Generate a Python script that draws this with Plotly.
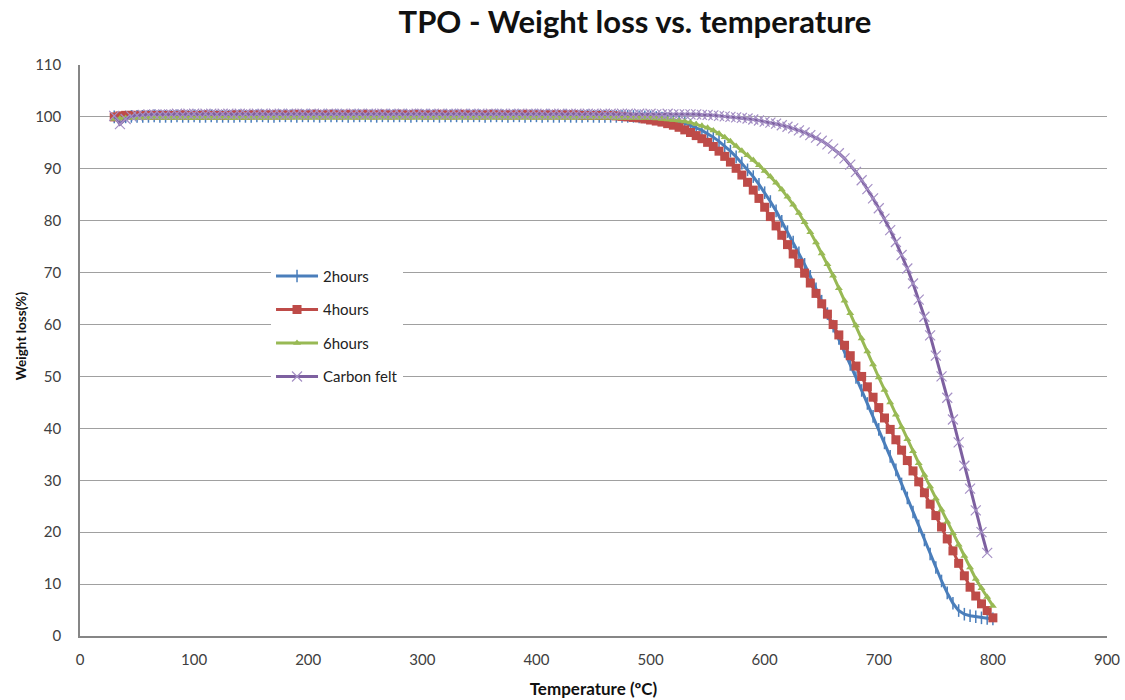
import plotly.graph_objects as go

temperature = list(range(30, 805, 5))

hours2 = [
    100.0, 99.8, 100.0, 100.1, 100.1, 100.1, 100.1, 100.2, 100.1, 100.1,   # 30-75
    100.1, 100.2, 100.1, 100.1, 100.2, 100.1, 100.1, 100.2, 100.1, 100.1,  # 80-125
    100.1, 100.1, 100.2, 100.1, 100.1, 100.2, 100.2, 100.1, 100.1, 100.2,  # 130-175
    100.2, 100.2, 100.1, 100.2, 100.2, 100.2, 100.1, 100.2, 100.2, 100.2,  # 180-225
    100.2, 100.1, 100.2, 100.2, 100.2, 100.2, 100.1, 100.2, 100.2, 100.2,  # 230-275
    100.2, 100.2, 100.1, 100.2, 100.2, 100.2, 100.2, 100.1, 100.2, 100.2,  # 280-325
    100.2, 100.1, 100.2, 100.2, 100.2, 100.1, 100.2, 100.2, 100.2, 100.1,  # 330-375
    100.2, 100.2, 100.1, 100.2, 100.2, 100.1, 100.2, 100.1, 100.1, 100.2,  # 380-425
    100.1, 100.1, 100.1, 100.2, 100.1, 100.1, 100.1, 100.1, 100.1, 100.1,  # 430-475
    100.1, 100.1, 100.0, 100.0, 100.0, 99.9, 99.8, 99.6, 99.4, 99.1,       # 480-525
    98.8, 98.4, 97.9, 97.4, 96.8, 96.1, 95.3, 94.4, 93.4, 92.3,            # 530-575
    91.1, 89.8, 88.5, 87.0, 85.4, 83.7, 81.9, 79.9, 77.9, 75.9,            # 580-625
    73.8, 71.6, 69.3, 66.9, 64.5, 62.1, 59.7, 57.3, 54.8, 52.3,            # 630-675
    49.8, 47.3, 44.8, 42.3, 39.8, 37.2, 34.6, 32.0, 29.3, 26.6,            # 680-725
    23.9, 21.2, 18.5, 15.8, 13.2, 10.6, 8.3, 6.3, 4.9, 4.2,                # 730-775
    3.9, 3.7, 3.5, 3.4, 3.3,                                               # 780-800
]

hours4 = [
    100.0, 100.2, 100.3, 100.3, 100.3, 100.3, 100.3, 100.3, 100.3, 100.3,  # 30-75
    100.3, 100.3, 100.4, 100.3, 100.3, 100.3, 100.4, 100.3, 100.3, 100.3,  # 80-125
    100.3, 100.4, 100.4, 100.3, 100.4, 100.4, 100.4, 100.4, 100.4, 100.4,  # 130-175
    100.4, 100.4, 100.5, 100.4, 100.4, 100.5, 100.4, 100.4, 100.5, 100.4,  # 180-225
    100.4, 100.5, 100.4, 100.4, 100.5, 100.4, 100.4, 100.5, 100.4, 100.4,  # 230-275
    100.5, 100.4, 100.4, 100.5, 100.4, 100.4, 100.4, 100.5, 100.4, 100.4,  # 280-325
    100.4, 100.5, 100.4, 100.4, 100.4, 100.4, 100.5, 100.4, 100.4, 100.4,  # 330-375
    100.4, 100.4, 100.5, 100.4, 100.4, 100.4, 100.4, 100.4, 100.4, 100.4,  # 380-425
    100.4, 100.4, 100.3, 100.3, 100.3, 100.3, 100.3, 100.3, 100.2, 100.1,  # 430-475
    100.0, 99.9, 99.8, 99.6, 99.4, 99.2, 99.0, 98.7, 98.4, 98.0,           # 480-525
    97.5, 97.0, 96.4, 95.8, 95.1, 94.3, 93.4, 92.4, 91.3, 90.1,            # 530-575
    88.8, 87.4, 85.9, 84.3, 82.6, 80.8, 79.0, 77.2, 75.4, 73.6,            # 580-625
    71.8, 69.9, 68.0, 66.0, 64.0, 62.0, 60.0, 58.0, 56.0, 54.0,            # 630-675
    52.0, 50.0, 48.0, 46.0, 44.0, 42.0, 39.8, 37.8, 35.8, 33.8,            # 680-725
    31.8, 29.7, 27.6, 25.4, 23.2, 21.0, 18.7, 16.4, 14.0, 11.6,            # 730-775
    9.4, 7.7, 6.2, 4.9, 3.5,                                               # 780-800
]

hours6 = [
    99.6, 99.7, 99.8, 99.8, 99.8, 99.8, 99.8, 99.9, 99.8, 99.8,            # 30-75
    99.8, 99.8, 99.9, 99.8, 99.8, 99.8, 99.9, 99.8, 99.8, 99.9,            # 80-125
    99.8, 99.8, 99.9, 99.8, 99.9, 99.9, 99.8, 99.9, 99.9, 99.9,            # 130-175
    99.9, 99.9, 99.9, 99.9, 99.9, 99.9, 99.9, 99.9, 99.9, 99.9,            # 180-225
    99.9, 99.9, 99.9, 99.9, 99.9, 99.9, 99.9, 99.9, 99.9, 99.9,            # 230-275
    99.9, 99.9, 99.9, 99.9, 99.9, 99.9, 99.9, 99.9, 99.9, 99.9,            # 280-325
    99.9, 99.9, 99.9, 99.9, 99.9, 99.9, 99.9, 99.9, 99.9, 99.9,            # 330-375
    99.9, 99.9, 99.9, 99.9, 99.9, 99.9, 99.9, 99.9, 99.9, 99.9,            # 380-425
    99.9, 99.9, 99.9, 99.9, 99.9, 99.9, 99.9, 99.9, 99.8, 99.8,            # 430-475
    99.8, 99.8, 99.8, 99.8, 99.8, 99.7, 99.6, 99.5, 99.4, 99.3,            # 480-525
    99.1, 98.9, 98.6, 98.3, 97.9, 97.4, 96.8, 96.1, 95.3, 94.4,            # 530-575
    93.5, 92.6, 91.7, 90.7, 89.6, 88.5, 87.3, 86.0, 84.6, 83.1,            # 580-625
    81.5, 79.7, 77.8, 75.8, 73.7, 71.6, 69.4, 67.0, 64.6, 62.2,            # 630-675
    59.8, 57.3, 54.8, 52.3, 49.8, 47.4, 45.0, 42.6, 40.2, 37.9,            # 680-725
    35.6, 33.3, 31.0, 28.8, 26.5, 24.3, 22.0, 19.8, 17.6, 15.4,            # 730-775
    13.2, 11.0, 9.2, 7.5, 5.8,                                             # 780-800
]

carbon_felt = [
    100.2, 98.6, 99.6, 100.1, 100.3, 100.4, 100.5, 100.5, 100.5, 100.5,    # 30-75
    100.5, 100.6, 100.5, 100.6, 100.6, 100.5, 100.6, 100.6, 100.5, 100.6,  # 80-125
    100.6, 100.5, 100.6, 100.6, 100.5, 100.6, 100.6, 100.5, 100.6, 100.6,  # 130-175
    100.5, 100.6, 100.6, 100.6, 100.5, 100.6, 100.6, 100.5, 100.6, 100.6,  # 180-225
    100.6, 100.5, 100.6, 100.6, 100.5, 100.6, 100.6, 100.6, 100.5, 100.6,  # 230-275
    100.6, 100.5, 100.6, 100.6, 100.6, 100.5, 100.6, 100.6, 100.5, 100.6,  # 280-325
    100.6, 100.6, 100.5, 100.6, 100.6, 100.5, 100.6, 100.6, 100.6, 100.5,  # 330-375
    100.6, 100.6, 100.5, 100.6, 100.6, 100.6, 100.5, 100.6, 100.6, 100.5,  # 380-425
    100.6, 100.6, 100.5, 100.6, 100.6, 100.5, 100.6, 100.6, 100.5, 100.6,  # 430-475
    100.6, 100.5, 100.6, 100.5, 100.6, 100.5, 100.5, 100.6, 100.5, 100.5,  # 480-525
    100.5, 100.5, 100.5, 100.4, 100.4, 100.3, 100.2, 100.1, 100.0, 99.9,   # 530-575
    99.8, 99.7, 99.5, 99.3, 99.1, 98.9, 98.7, 98.4, 98.1, 97.8,            # 580-625
    97.4, 97.0, 96.5, 96.0, 95.4, 94.7, 93.9, 93.0, 92.0, 90.8,            # 630-675
    89.4, 87.8, 86.1, 84.3, 82.4, 80.4, 78.2, 75.9, 73.4, 70.8,            # 680-725
    67.9, 64.8, 61.5, 57.9, 54.0, 50.0, 45.9, 41.7, 37.3, 32.8,            # 730-775
    28.4, 24.2, 20.0, 16.0, None,                                          # 780-800
]

x_ticks = [0, 100, 200, 300, 400, 500, 600, 700, 800, 900]
y_ticks = [0, 10, 20, 30, 40, 50, 60, 70, 80, 90, 100, 110]

series = [
    ("2hours", hours2, "#4A7EBB", dict(symbol="line-ns", size=9, line=dict(width=1.5, color="#4A7EBB"))),
    ("4hours", hours4, "#BE4B48", dict(symbol="square", size=9, color="#BE4B48", line=dict(width=0))),
    ("6hours", hours6, "#98B954", dict(symbol="triangle-up", size=7, color="#98B954", line=dict(width=0))),
    ("Carbon felt", carbon_felt, "#7D60A0", dict(symbol="x-thin", size=10, line=dict(width=1.2, color="#A590C5"))),
]

fig = go.Figure()
for i, (name, ys, col, mk) in enumerate(series):
    fig.add_trace(go.Scatter(
        x=temperature, y=ys, name=name, mode="lines+markers",
        line=dict(color=col, width=3), marker=mk, legendgroup=str(i),
    ))

FONT = "Lato, Open Sans, sans-serif"
tick_font = dict(family=FONT, size=15, color="#404040")
fig.update_layout(
    width=1125, height=700,
    margin=dict(l=80, r=18, t=65, b=64, autoexpand=False),
    paper_bgcolor="white", plot_bgcolor="white",
    title=dict(text="<b>TPO - Weight loss vs. temperature</b>",
               font=dict(family=FONT, size=31, color="#111111"),
               x=0.5644, xanchor="center", y=0.968, yanchor="middle"),
    legend=dict(x=0.186, y=0.659, xanchor="left", yanchor="top",
                bgcolor="white", tracegroupgap=11, itemwidth=42,
                font=dict(family=FONT, size=15, color="#222222")),
    xaxis=dict(range=[0, 900], tickvals=x_ticks, showgrid=False, zeroline=False,
               showline=True, linecolor="#868686", linewidth=1.5, automargin=False,
               ticks="outside", ticklen=9, tickcolor="rgba(0,0,0,0)", tickfont=tick_font,
               title=dict(text="<b>Temperature (ºC)</b>", standoff=16,
                          font=dict(family=FONT, size=17, color="#111111"))),
    yaxis=dict(range=[0, 110], tickvals=y_ticks, showgrid=True, gridcolor="#A0A0A0", gridwidth=1,
               zeroline=False, showline=True, linecolor="#868686", linewidth=1.5, automargin=False,
               ticks="outside", ticklen=14, tickcolor="rgba(0,0,0,0)", tickfont=tick_font),
    annotations=[dict(text="<b>Weight loss(%)</b>", textangle=-90, showarrow=False,
                      xref="paper", yref="paper", x=-0.0574, y=0.525,
                      xanchor="center", yanchor="middle",
                      font=dict(family=FONT, size=13.5, color="#111111"))],
)

fig.write_html("out.html")
